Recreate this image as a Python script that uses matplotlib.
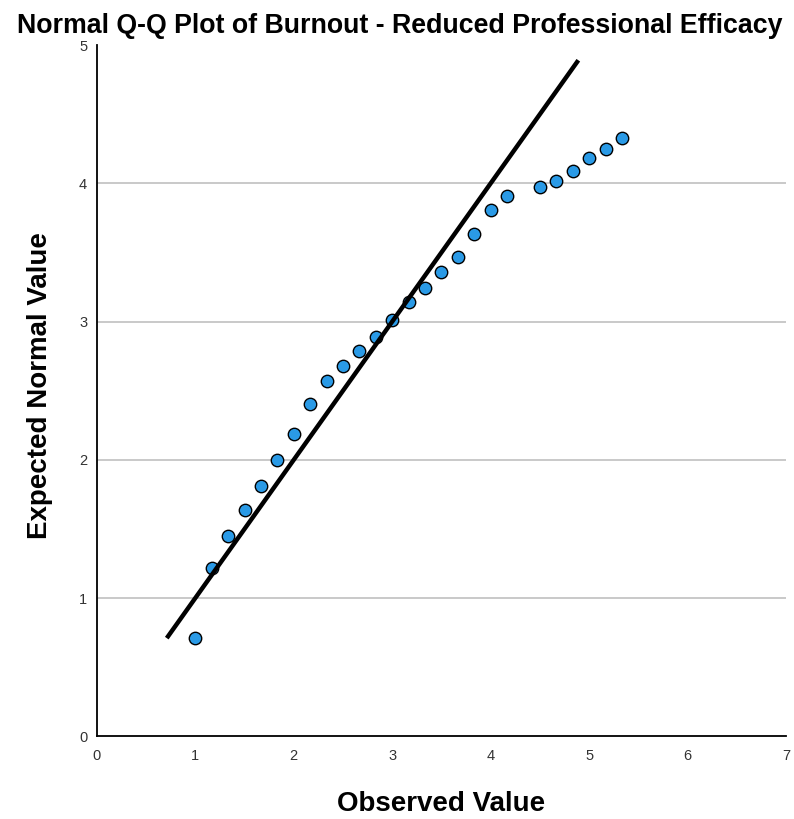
import matplotlib
matplotlib.use("Agg")
import matplotlib.pyplot as plt

plt.rcParams["font.family"] = ["Liberation Sans", "DejaVu Sans"]

# observed scores (steps of 1/6) and their expected normal values
observed = [1.0, 1.167, 1.333, 1.5, 1.667, 1.833, 2.0, 2.167, 2.333, 2.5, 2.667,
            2.833, 3.0, 3.167, 3.333, 3.5, 3.667, 3.833, 4.0, 4.167,
            4.5, 4.667, 4.833, 5.0, 5.167, 5.333]
expected = [0.71, 1.22, 1.45, 1.64, 1.81, 2.00, 2.19, 2.40, 2.57, 2.68, 2.79,
            2.89, 3.01, 3.14, 3.24, 3.36, 3.47, 3.63, 3.81, 3.91,
            3.97, 4.02, 4.09, 4.18, 4.25, 4.33]
ref_line = [0.71, 4.89]

fig = plt.figure(figsize=(7.94, 8.19), dpi=100)
ax = fig.add_axes([0.122, 0.101, 0.868, 0.844])

ax.set_xlim(0, 7)
ax.set_ylim(0, 5)
ax.set_yticks([0, 1, 2, 3, 4, 5])
ax.set_xticks(range(8))
for yv in [1, 2, 3, 4]:
    ax.axhline(yv, color="#c0c0c0", lw=1.2, zorder=0)

ax.scatter(observed, expected, s=80, color="#2a9ae6", edgecolor="black",
           linewidth=1.0, zorder=2)
ax.plot(ref_line, ref_line, color="black", lw=3.2, zorder=3, solid_capstyle="butt")

for s in ["top", "right"]:
    ax.spines[s].set_visible(False)
for s in ["left", "bottom"]:
    ax.spines[s].set_linewidth(1.3)
ax.tick_params(length=0, labelsize=10.5, colors="#333333")
ax.tick_params(axis="x", pad=9)
ax.tick_params(axis="y", pad=7)

fig.text(0.503, 0.968, "Normal Q-Q Plot of Burnout - Reduced Professional Efficacy",
         ha="center", va="center", fontsize=19.3, fontweight="bold")
ax.set_xlabel("Observed Value", fontsize=20, fontweight="bold", labelpad=20)
ax.set_ylabel("Expected Normal Value", fontsize=20, fontweight="bold")
ax.yaxis.set_label_coords(-0.064, 0.507)

fig.savefig("out.png", dpi=100)
